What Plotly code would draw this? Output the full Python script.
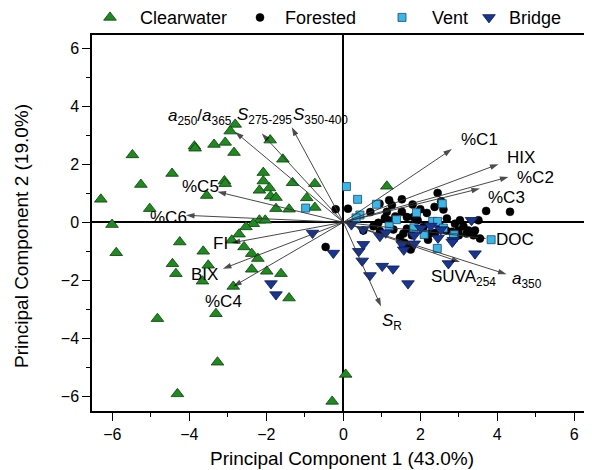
import plotly.graph_objects as go

# ---------------- data ----------------
clear_x = [-6.3, -6.01, -5.9, -5.48, -5.26, -5.03, -4.45, -3.87, -3.85, -3.36, -3.55, -4.25, -3.64, -4.44,
           -3.51, -4.35, -2.81, -2.94, -3.07, -2.84, -1.90, -1.57, -2.08, -2.08, -2.18, -1.92, -1.89, -1.75,
           -3.09, -3.07, -1.32, -0.74, -0.95, -0.74, -1.75, -1.41, -2.18, -2.03, -2.34, -2.53, -2.71, -2.90,
           -2.58, -2.38, -2.22, -2.38, -1.99, -1.62, -3.66, -2.86, -1.41, -4.83, -3.31, -3.27, -4.31, -0.29,
           0.06, 1.13]
clear_y = [0.79, -0.08, -1.05, 2.32, 1.30, 0.47, 1.68, 2.62, 2.55, 2.68, 0.92, -0.68, -1.0, -1.43,
           -1.48, -1.77, 3.37, 3.14, 2.75, 2.40, 2.83, 2.17, 1.71, 1.42, 1.10, 1.18, 0.90, 0.85,
           1.42, 1.33, 1.36, 1.33, 0.84, 0.51, 0.47, 0.45, 0.07, 0.07, -0.05, -0.16, -0.41, -0.62,
           -0.85, -1.08, -1.25, -1.62, -1.69, -1.77, -2.03, -2.21, -2.61, -3.32, -3.15, -4.82, -5.91, -6.17,
           -5.24, 1.24]

forest_x = [-0.2, 0.12, -0.46, 2.45, 1.19, 1.52, 0.94, 1.26, 1.80, 2.54, 2.60, 1.13, 1.52, 1.65, 1.82,
            2.17, 0.78, 0.91, 0.52, 1.17, 1.47, 1.56, 1.78, 1.93, 2.08, 2.69, 2.90, 3.03, 3.12, 3.25,
            3.42, 2.99, 2.82, 3.51, 3.55, 3.71, 4.33, 2.51, 2.38, 1.56, 1.65, 1.78, 2.23, 1.59, 1.75,
            0.95, 1.08, 2.67, 3.2, 3.38, 2.37, 1.3, 2.0, 3.0, 2.2, 0.7, 1.35]
forest_y = [0.45, 0.47, -0.85, 1.01, 0.76, 0.79, 0.64, 0.59, 0.61, 0.72, 0.44, 0.36, 0.36, 0.18, 0.18,
            0.32, -0.14, -0.02, -0.28, 0.07, -0.53, -0.85, -0.83, 0.07, -0.16, 0.13, -0.05, 0.07, -0.14, -0.28,
            -0.28, -0.28, -0.33, 0.07, -0.56, 0.39, 0.36, -0.14, -0.37, -0.39, -0.22, -0.45, -0.39, -0.71, -0.94,
            -0.3, 0.15, -0.28, -0.39, -0.45, 0.53, -0.25, 0.45, -0.45, -0.6, 0.35, 0.2]

vent_x = [-0.98, 0.08, 0.37, 0.86, 0.43, 0.33, 1.38, 1.19, 1.90, 2.57, 2.32, 2.45, 1.83, 2.10, 2.60,
          2.88, 2.86, 2.44, 3.84]
vent_y = [0.49, 1.23, 0.79, 0.62, 0.25, 0.15, 0.09, -0.13, 0.33, 0.64, 0.03, 0.03, -0.19, -0.42, -0.2,
          -0.43, -0.52, -0.9, -0.6]

bridge_x = [-0.80, -0.26, -1.88, -1.75, 0.21, 0.51, 0.95, 1.10, 0.40, 0.52, 0.49, 0.69, 1.01, 1.29,
            1.53, 1.57, 1.84, 1.84, 2.01, 2.27, 2.46, 2.53, 2.86, 2.73, 3.33, 3.42, 1.68, 2.83]
bridge_y = [-0.37, -1.06, -2.11, -2.49, -0.08, -0.25, -0.48, -0.36, -1.0, -0.76, -1.33, -1.83, -1.51, -1.6,
            -0.76, -0.95, -0.45, -0.74, -0.2, -0.13, -0.54, -0.25, -0.62, -1.42, 0.07, -1.08, -2.11, -0.68]

load_names = ["<i>a</i><sub>250</sub>/<i>a</i><sub>365</sub>", "<i>S</i><sub>275-295</sub>",
              "<i>S</i><sub>350-400</sub>", "%C5", "%C6", "FI", "BIX", "%C4", "%C1", "HIX", "%C2",
              "%C3", "DOC", "SUVA<sub>254</sub>", "<i>a</i><sub>350</sub>", "<i>S</i><sub>R</sub>"]
load_x = [-2.81, -2.12, -1.34, -3.27, -4.09, -2.90, -3.13, -2.86, 2.82, 4.03, 4.29, 3.55, 3.72, 3.03, 4.24, 0.98]
load_y = [3.11, 3.06, 3.27, 1.05, 0.24, -0.71, -1.60, -2.21, 2.52, 2.00, 1.56, 1.16, -0.56, -1.37, -1.79, -2.90]

# label positions (layout)
lab_x = [-3.72, -2.06, -0.6, -3.72, -4.53, -3.2, -3.62, -3.12, 3.55, 4.61, 4.98, 4.25, 4.46, 3.13, 4.77, 1.26]
lab_y = [3.62, 3.66, 3.66, 1.24, 0.17, -0.72, -1.79, -2.72, 2.86, 2.24, 1.55, 0.86, -0.59, -1.93, -2.0, -3.45]

FONT = "Arial, 'Liberation Sans', sans-serif"
NB = "\u00a0"

fig = go.Figure()

fig.add_trace(go.Scatter(x=clear_x, y=clear_y, mode="markers", name=NB * 2 + "Clearwater",
                         marker=dict(symbol="triangle-up", size=11, color="#1f8a1f",
                                     line=dict(color="#0b3d0b", width=0.8)), legend="legend"))
fig.add_trace(go.Scatter(x=forest_x, y=forest_y, mode="markers", name=NB + "Forested",
                         marker=dict(symbol="circle", size=8, color="black",
                                     line=dict(color="black", width=0.5)), legend="legend2"))
fig.add_trace(go.Scatter(x=vent_x, y=vent_y, mode="markers", name=NB * 2 + "Vent",
                         marker=dict(symbol="square", size=8, color="#3bb6e8",
                                     line=dict(color="#1a4a6a", width=0.8)), legend="legend3"))
fig.add_trace(go.Scatter(x=bridge_x, y=bridge_y, mode="markers", name="Bridge",
                         marker=dict(symbol="triangle-down", size=11, color="#1a3590",
                                     line=dict(color="#0a1a50", width=0.8)), legend="legend4"))

for lx, ly in zip(load_x, load_y):
    fig.add_trace(go.Scatter(x=[0, lx], y=[0, ly], mode="lines+markers", showlegend=False,
                             hoverinfo="skip",
                             line=dict(color="#333333", width=0.9),
                             marker=dict(symbol="arrow", size=[0, 9], color="black",
                                         angleref="previous", line=dict(width=0))))

for t, lx, ly in zip(load_names, lab_x, lab_y):
    fig.add_annotation(x=lx, y=ly, text=t, showarrow=False, xref="x", yref="y",
                       font=dict(family=FONT, size=17, color="black"))

axis_common = dict(showline=True, linecolor="black", linewidth=1.5, mirror=True,
                   zeroline=True, zerolinecolor="black", zerolinewidth=1.5,
                   showgrid=False, ticks="outside", ticklen=8, tickwidth=1.2, tickcolor="black",
                   tickfont=dict(family=FONT, size=16, color="black"), automargin=False,
                   minor=dict(ticks="outside", ticklen=4, tickwidth=1, tickcolor="black", dtick=1))

fig.update_xaxes(range=[-6.53, 6.46], dtick=2, tick0=0,
                 title=dict(text="Principal Component 1 (43.0%)",
                            font=dict(family=FONT, size=19, color="black"), standoff=10),
                 **axis_common)
fig.update_yaxes(range=[-6.5, 6.45], dtick=2, tick0=0, **axis_common)

fig.add_annotation(text="Principal Component 2 (19.0%)", xref="paper", yref="paper",
                   x=(22 - 92) / 500, y=(411 - 236) / 376, textangle=-90, showarrow=False,
                   xanchor="center", yanchor="middle",
                   font=dict(family=FONT, size=19, color="black"))

leg_common = dict(orientation="h", yanchor="middle", y=1.046, xanchor="left",
                  font=dict(family=FONT, size=18, color="black"), bgcolor="rgba(0,0,0,0)",
                  itemwidth=30, tracegroupgap=0)
# the page body adds an 8px offset, so the figure is 584x462 with margins reduced by 8
fig.update_layout(
    width=584, height=462,
    margin=dict(l=84, r=0, t=27, b=59, autoexpand=False),
    paper_bgcolor="white", plot_bgcolor="white",
    font=dict(family=FONT, color="black"),
    legend=dict(x=(90 - 92) / 500, **leg_common),
    legend2=dict(x=(240 - 92) / 500, **leg_common),
    legend3=dict(x=(382 - 92) / 500, **leg_common),
    legend4=dict(x=(469 - 92) / 500, **leg_common),
)

fig.write_html("out.html")
